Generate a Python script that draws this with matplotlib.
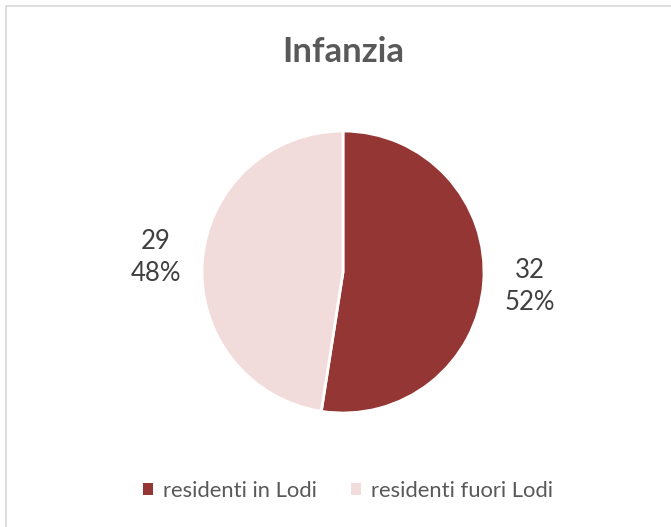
import matplotlib
matplotlib.use("Agg")
import matplotlib.pyplot as plt
from matplotlib.patches import Patch
from matplotlib.lines import Line2D

plt.rcParams['font.family'] = ['Lato', 'DejaVu Sans']

title = "Infanzia"
categories = ["residenti in Lodi", "residenti fuori Lodi"]
values = [32, 29]
colors = ["#943634", "#F2DCDB"]

W, H = 671, 527
fig = plt.figure(figsize=(W / 100, H / 100), dpi=100)

# chart border (only top and left visible in the crop)
fig.add_artist(Line2D([5.5 / W, 5.5 / W], [0, 1 - 6 / H], color="#D9D9D9", lw=1.2))
fig.add_artist(Line2D([5.5 / W, 1], [1 - 6 / H, 1 - 6 / H], color="#D9D9D9", lw=1.2))

# pie area: centre (343, 272), radius 141 px
cx, cy, r = 343, 272, 141
ax = fig.add_axes([(cx - r) / W, (H - cy - r) / H, 2 * r / W, 2 * r / H])

total = sum(values)


def label(pct):
    v = int(round(pct * total / 100))
    return f"{v}\n{pct:.0f}%"


wedges, texts, autotexts = ax.pie(
    values, colors=colors, startangle=90, counterclock=False,
    autopct=label, pctdistance=1.33,
    wedgeprops=dict(edgecolor="white", linewidth=2),
    textprops=dict(color="#404040", fontsize=18.5, linespacing=1.38),
)
ax.set_xlim(-1, 1)
ax.set_ylim(-1, 1)
ax.set_aspect("equal")
ax.axis("off")

fig.text(cx / W, 1 - 52 / H, title, ha="center", va="center",
         fontsize=25, fontweight="bold", color="#595959")

handles = [Patch(facecolor=c, edgecolor="none") for c in colors]
fig.legend(handles, categories, loc="center", bbox_to_anchor=(348 / W, 1 - 491 / H),
           ncol=2, frameon=False, fontsize=15.8, labelcolor="#595959",
           handlelength=0.45, handleheight=0.45, handletextpad=0.42,
           columnspacing=1.6, borderpad=0, borderaxespad=0)

fig.savefig("out.png", dpi=100, facecolor="white")
